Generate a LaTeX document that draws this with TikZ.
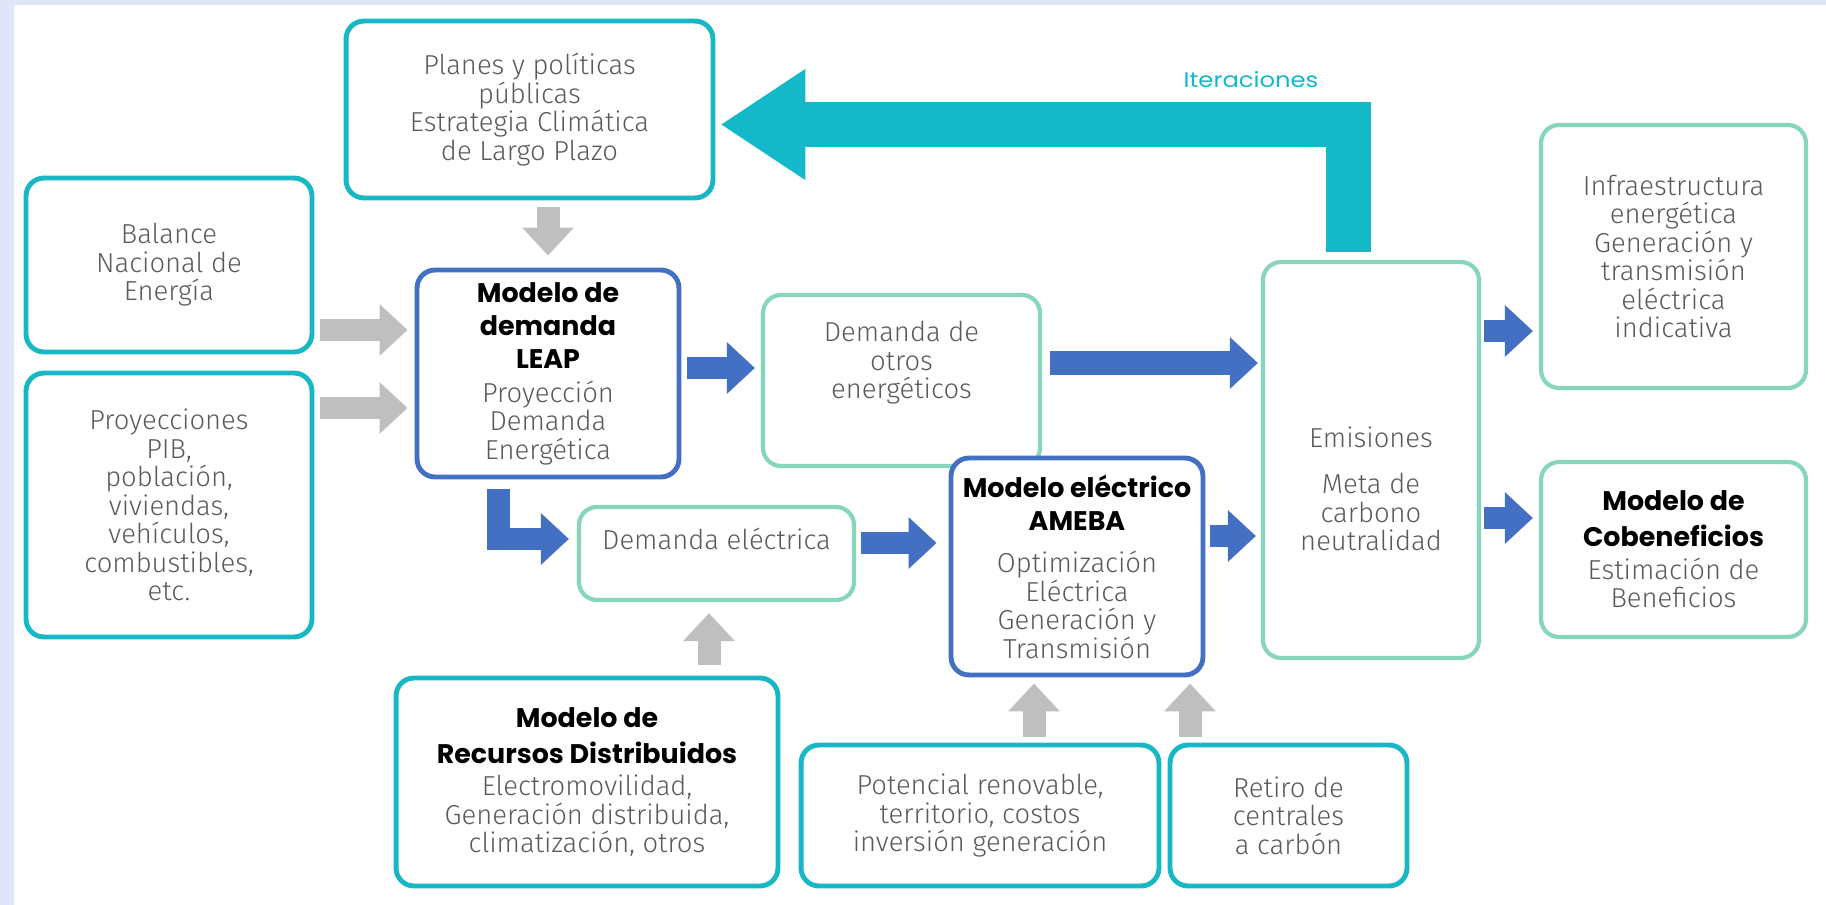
\documentclass[tikz,border=0pt]{standalone}
\usepackage{fontspec}
\setmainfont{Fira Sans Light}
\newfontfamily\titlefont{Poppins}
\usetikzlibrary{calc,arrows.meta}
\definecolor{tealc}{HTML}{17B8C4}
\definecolor{mintc}{HTML}{86D6BC}
\definecolor{bluec}{HTML}{4470C4}
\definecolor{arrowgray}{HTML}{BFBFBF}
\definecolor{textgray}{HTML}{5A5A5A}
\definecolor{iterc}{HTML}{13B9C9}
\definecolor{bgc}{HTML}{DFE6FA}
\newcommand{\bodysize}{\fontsize{15.6}{16.2}\selectfont}
\newcommand{\ttl}[1]{{\titlefont\bfseries\fontsize{15.3}{18}\selectfont\color{black}#1}}
\tikzset{
  boxtext/.style={align=center, text=textgray, font=\bodysize},
  box/.style={boxtext, rounded corners=0.36cm, fill=white},
  tealbox/.style={box, draw=tealc, line width=2.8pt},
  mintbox/.style={box, draw=mintc, line width=2.4pt},
  bluebox/.style={box, draw=bluec, line width=2.8pt},
  grayarrow/.style={draw=arrowgray, line width=0.46cm, -{Triangle[length=0.56cm,width=1.0cm]}},
  bluearrow/.style={grayarrow, draw=bluec, line join=miter},
  iterarrow/.style={draw=iterc, line width=0.9cm, line join=miter, -{Triangle[length=1.7cm,width=2.1cm]}},
  iterlabel/.style={text=iterc, font=\titlefont\fontsize{12}{14}\selectfont}
}
\begin{document}
\begin{tikzpicture}[x=0.02cm,y=-0.02cm]
\fill[bgc] (0,0) rectangle (1826,905);
\fill[white] (14,5) rectangle (1826,905);
\useasboundingbox (0,0) rectangle (1826,905);

% entradas
\node[tealbox, minimum width=7.34cm, minimum height=3.54cm] (planes) at (529.5,109.5) {Planes y políticas\\públicas\\Estrategia Climática\\de Largo Plazo};
\node[tealbox, minimum width=5.72cm, minimum height=3.48cm] (balance) at (169,265) {Balance\\Nacional de\\Energía};
\node[tealbox, minimum width=5.72cm, minimum height=5.28cm] (proy) at (169,505)
  {Proyecciones\\PIB,\\población,\\viviendas,\\vehículos,\\combustibles,\\etc.};

% modelos
\node[bluebox, minimum width=5.24cm, minimum height=4.14cm] (leap) at (548,373.5)
  {\ttl{Modelo de}\\[2.6pt]\ttl{demanda}\\[2.6pt]\ttl{LEAP}\\[3.2pt]Proyección\\Demanda\\Energética};
\node[mintbox, minimum width=5.54cm, minimum height=3.42cm,
      label={[boxtext,yshift=0.35cm]center:Demanda de\\otros\\energéticos}] (otros) at (901.5,380.5) {};
\node[mintbox, minimum width=5.5cm, minimum height=1.86cm,
      label={[boxtext,yshift=0.29cm]center:Demanda eléctrica}] (delec) at (716.5,553.5) {};
\node[bluebox, minimum width=5.04cm, minimum height=4.34cm] (ameba) at (1077,566.5)
  {\ttl{Modelo eléctrico}\\[3pt]\ttl{AMEBA}\\[7.6pt]Optimización\\Eléctrica\\Generación y\\Transmisión};
\node[mintbox, minimum width=4.32cm, minimum height=7.92cm,
      label={[boxtext,yshift=-0.58cm]center:Emisiones\\[10.3pt]Meta de\\carbono\\neutralidad}] (emis) at (1371,460) {};

% salidas
\node[mintbox, minimum width=5.3cm, minimum height=5.26cm] (infra) at (1673.5,256.5)
  {Infraestructura\\energética\\Generación y\\transmisión\\eléctrica\\indicativa};
\node[mintbox, minimum width=5.3cm, minimum height=3.5cm] (cobe) at (1673.5,549.5)
  {\ttl{Modelo de}\\[4.3pt]\ttl{Cobeneficios}\\[2.3pt]Estimación de\\Beneficios};

% abajo
\node[tealbox, minimum width=7.64cm, minimum height=4.16cm] (recursos) at (587,782)
  {\ttl{Modelo de}\\[4.3pt]\ttl{Recursos Distribuidos}\\[2.3pt]Electromovilidad,\\Generación distribuida,\\climatización, otros};
\node[tealbox, minimum width=7.16cm, minimum height=2.82cm] (potencial) at (980,815.5)
  {Potencial renovable,\\territorio, costos\\inversión generación};
\node[tealbox, minimum width=4.74cm, minimum height=2.82cm] (retiro) at (1288.5,815.5)
  {Retiro de\\centrales\\a carbón};

% flechas grises
\draw[grayarrow] ($(leap.north |- planes.south)+(0,7)$) -- ($(leap.north)+(0,-12)$);
\draw[grayarrow] ($(balance.east |- 0,330)+(6,0)$) -- ($(leap.west |- 0,330)+(-7,0)$);
\draw[grayarrow] ($(proy.east |- 0,408)+(6,0)$) -- ($(leap.west |- 0,408)+(-7,0)$);
\draw[grayarrow] ($(709,0 |- recursos.north)+(0,-11)$) -- ($(709,0 |- delec.south)+(0,11)$);
\draw[grayarrow] ($(1034,0 |- potencial.north)+(0,-6)$) -- ($(1034,0 |- ameba.south)+(0,6)$);
\draw[grayarrow] ($(1190,0 |- retiro.north)+(0,-6)$) -- ($(1190,0 |- ameba.south)+(0,6)$);

% flechas azules
\draw[bluearrow] ($(leap.east |- 0,368)+(6,0)$) -- ($(otros.west |- 0,368)+(-6,0)$);
\draw[bluearrow, line width=0.5cm] ($(otros.east |- 0,363)+(8,0)$) -- ($(emis.west |- 0,363)+(-3,0)$);
\draw[bluearrow] ($(leap.south)+(-50,10)$) |- ($(delec.west)+(-8,-14.5)$);
\draw[bluearrow] ($(delec.east |- 0,543)+(5,0)$) -- ($(ameba.west |- 0,543)+(-12,0)$);
\draw[bluearrow] ($(ameba.east |- 0,536)+(5,0)$) -- ($(emis.west |- 0,536)+(-5,0)$);
\draw[bluearrow] ($(emis.east |- 0,331)+(3,0)$) -- ($(infra.west |- 0,331)+(-6,0)$);
\draw[bluearrow] ($(emis.east |- 0,518)+(3,0)$) -- ($(cobe.west |- 0,518)+(-6,0)$);

% iteraciones
\draw[iterarrow] ($(1348,0 |- emis.north)+(0,-8)$) |- ($(planes.east |- 0,124.5)+(5,0)$);
\node[iterlabel] (iter) at (1251,80) {\scalebox{1.15}[1]{Iteraciones}};
\end{tikzpicture}
\end{document}
